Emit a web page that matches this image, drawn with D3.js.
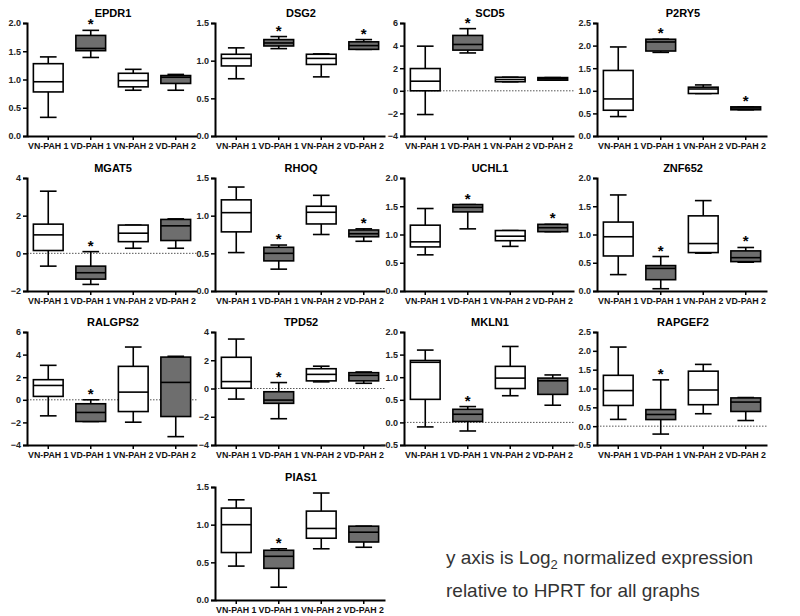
<!DOCTYPE html>
<html>
<head>
<meta charset="utf-8">
<script src="https://cdn.jsdelivr.net/npm/d3@7"></script>
<style>
  body { margin: 0; background: #fff; }
  svg { display: block; font-family: "Liberation Sans", Arial, sans-serif; }
  .tick text { font-weight: bold; font-size: 9px; fill: #222; }
  .title { font-weight: bold; font-size: 11px; }
</style>
</head>
<body>
<svg width="800" height="616"></svg>
<script>
// groups on the x axis of every panel
var groups = ["VN-PAH 1", "VD-PAH 1", "VN-PAH 2", "VD-PAH 2"];

var genes = ["EPDR1", "DSG2", "SCD5", "P2RY5", "MGAT5", "RHOQ", "UCHL1", "ZNF652",
             "RALGPS2", "TPD52", "MKLN1", "RAPGEF2", "PIAS1"];

// y axis ticks for each panel (first and last are the domain)
var yTicks = [
  [0, 0.5, 1, 1.5, 2],
  [0, 0.5, 1, 1.5],
  [-4, -2, 0, 2, 4, 6],
  [0, 0.5, 1, 1.5, 2, 2.5],
  [-2, 0, 2, 4],
  [0, 0.5, 1, 1.5],
  [0, 0.5, 1, 1.5, 2],
  [0, 0.5, 1, 1.5, 2],
  [-4, -2, 0, 2, 4, 6],
  [-4, -2, 0, 2, 4],
  [-0.5, 0, 0.5, 1, 1.5, 2],
  [-0.5, 0, 0.5, 1, 1.5, 2, 2.5],
  [0, 0.5, 1, 1.5]
];

// box stats per group: [min, q1, median, q3, max]
var EPDR1   = [[0.33, 0.78, 0.96, 1.28, 1.40], [1.39, 1.51, 1.55, 1.78, 1.87], [0.81, 0.87, 0.98, 1.11, 1.18], [0.81, 0.93, 1.04, 1.07, 1.09]];
var DSG2    = [[0.76, 0.93, 1.03, 1.085, 1.17], [1.16, 1.195, 1.235, 1.28, 1.32], [0.785, 0.95, 1.03, 1.085, 1.09], [1.15, 1.15, 1.20, 1.25, 1.28]];
var SCD5    = [[-2.1, 0.0, 0.85, 1.97, 3.95], [3.35, 3.6, 4.1, 4.9, 5.5], [0.8, 0.8, 1.0, 1.2, 1.2], [0.94, 0.94, 1.06, 1.17, 1.17]];
var P2RY5   = [[0.43, 0.57, 0.82, 1.45, 1.97], [1.85, 1.88, 2.08, 2.14, 2.14], [0.94, 0.94, 1.04, 1.08, 1.13], [0.58, 0.58, 0.62, 0.645, 0.645]];
var MGAT5   = [[-0.68, 0.15, 0.98, 1.55, 3.3], [-1.65, -1.37, -1.03, -0.68, 0.09], [0.27, 0.62, 1.07, 1.5, 1.5], [0.27, 0.68, 1.46, 1.8, 1.83]];
var RHOQ    = [[0.51, 0.785, 1.04, 1.21, 1.38], [0.29, 0.40, 0.50, 0.58, 0.61], [0.75, 0.89, 1.045, 1.125, 1.27], [0.66, 0.72, 0.76, 0.81, 0.825]];
var UCHL1   = [[0.64, 0.78, 0.87, 1.165, 1.46], [1.10, 1.40, 1.48, 1.53, 1.53], [0.79, 0.89, 0.97, 1.07, 1.07], [1.05, 1.05, 1.12, 1.18, 1.18]];
var ZNF652  = [[0.29, 0.62, 0.96, 1.22, 1.70], [0.04, 0.20, 0.40, 0.45, 0.61], [0.67, 0.68, 0.84, 1.33, 1.60], [0.51, 0.52, 0.59, 0.71, 0.77]];
var RALGPS2 = [[-1.42, 0.3, 1.27, 1.78, 3.05], [-1.92, -1.92, -1.12, -0.35, 0.0], [-1.98, -1.04, 0.68, 2.96, 4.67], [-3.26, -1.48, 1.54, 3.78, 3.85]];
var TPD52   = [[-0.75, 0.02, 0.49, 2.21, 3.5], [-2.14, -1.05, -0.82, -0.23, 0.42], [0.47, 0.54, 1.0, 1.4, 1.58], [0.37, 0.54, 0.93, 1.12, 1.17]];
var MKLN1   = [[-0.1, 0.51, 1.33, 1.37, 1.60], [-0.19, 0.02, 0.18, 0.29, 0.35], [0.59, 0.75, 0.98, 1.24, 1.68], [0.38, 0.62, 0.92, 0.98, 1.05]];
var RAPGEF2 = [[0.18, 0.55, 0.945, 1.35, 2.10], [-0.21, 0.175, 0.31, 0.44, 1.23], [0.33, 0.57, 0.96, 1.46, 1.64], [0.15, 0.39, 0.64, 0.75, 0.76]];
var PIAS1   = [[0.45, 0.63, 1.0, 1.22, 1.33], [0.17, 0.42, 0.58, 0.66, 0.68], [0.68, 0.82, 0.95, 1.18, 1.42], [0.70, 0.77, 0.90, 0.98, 0.98]];

var boxData = [EPDR1, DSG2, SCD5, P2RY5, MGAT5, RHOQ, UCHL1, ZNF652, RALGPS2, TPD52, MKLN1, RAPGEF2, PIAS1];

// significance stars (1 = star over that group)
var stars = [
  [0, 1, 0, 0], [0, 1, 0, 1], [0, 1, 0, 0], [0, 1, 0, 1],
  [0, 1, 0, 0], [0, 1, 0, 1], [0, 1, 0, 1], [0, 1, 0, 1],
  [0, 1, 0, 0], [0, 1, 0, 0], [0, 1, 0, 0], [0, 1, 0, 0],
  [0, 1, 0, 0]
];

// layout
var colX = [27, 215, 404, 597];
var rowY = [23, 178, 332, 487];
var plotW = 170, plotH = 113;
var fillFor = ["#ffffff", "#6e6e6e", "#ffffff", "#6e6e6e"];

var svg = d3.select("svg");

var x = d3.scaleBand().domain(groups).range([0, plotW]).paddingInner(0.3).paddingOuter(0.15);

genes.forEach(function (gene, i) {
  var col = i < 12 ? i % 4 : 1;
  var row = Math.floor(i / 4);
  var ticks = yTicks[i];
  var y = d3.scaleLinear().domain([ticks[0], ticks[ticks.length - 1]]).range([plotH, 0]);
  var intTicks = ticks.every(function (t) { return Math.round(t) === t; });

  var g = svg.append("g").attr("transform", "translate(" + colX[col] + "," + rowY[row] + ")");

  g.append("text").attr("class", "title")
    .attr("x", plotW / 2 + 1).attr("y", -6)
    .attr("text-anchor", "middle").text(gene);

  // dotted zero line when the axis goes negative
  if (ticks[0] < 0) {
    g.append("line")
      .attr("x1", 0).attr("x2", plotW)
      .attr("y1", y(0)).attr("y2", y(0))
      .attr("stroke", "#555").attr("stroke-width", 1)
      .attr("stroke-dasharray", "1.5,1.5");
  }

  var yAxis = g.append("g")
    .call(d3.axisLeft(y).tickValues(ticks).tickSize(4).tickPadding(2)
      .tickFormat(d3.format(intTicks ? "d" : ".1f")));
  yAxis.select(".domain").attr("stroke-width", 2);
  yAxis.selectAll(".tick line").attr("stroke-width", 1.5);

  var xAxis = g.append("g").attr("transform", "translate(0," + plotH + ")")
    .call(d3.axisBottom(x).tickSize(4).tickSizeOuter(0).tickPadding(3));
  xAxis.select(".domain").attr("stroke-width", 2);
  xAxis.selectAll(".tick line").attr("stroke-width", 1.5);
  xAxis.selectAll(".tick text").style("font-size", "8.8px").style("fill", "#111");

  var boxes = g.selectAll(".box").data(boxData[i]).enter().append("g")
    .attr("transform", function (d, j) { return "translate(" + x(groups[j]) + ",0)"; });
  var bw = x.bandwidth();

  // whiskers
  boxes.append("line")
    .attr("x1", bw / 2).attr("x2", bw / 2)
    .attr("y1", function (d) { return y(d[0]); })
    .attr("y2", function (d) { return y(d[4]); })
    .attr("stroke", "#000").attr("stroke-width", 1.6);
  [0, 4].forEach(function (k) {
    boxes.append("line")
      .attr("x1", bw * 0.22).attr("x2", bw * 0.78)
      .attr("y1", function (d) { return y(d[k]); })
      .attr("y2", function (d) { return y(d[k]); })
      .attr("stroke", "#000").attr("stroke-width", 1.6);
  });
  boxes.append("rect")
    .attr("x", 0).attr("width", bw)
    .attr("y", function (d) { return y(d[3]); })
    .attr("height", function (d) { return Math.max(1, y(d[1]) - y(d[3])); })
    .attr("fill", function (d, j) { return fillFor[j]; })
    .attr("stroke", "#000").attr("stroke-width", 1.6);
  boxes.append("line")
    .attr("x1", 0).attr("x2", bw)
    .attr("y1", function (d) { return y(d[2]); })
    .attr("y2", function (d) { return y(d[2]); })
    .attr("stroke", "#000").attr("stroke-width", 1.6);

  boxes.filter(function (d, j) { return stars[i][j]; })
    .append("text")
    .attr("x", bw / 2)
    .attr("y", function (d) { return y(d[4]) - 1; })
    .attr("text-anchor", "middle")
    .style("font-size", "15px").style("font-weight", "bold")
    .text("*");
});

// note
var note = svg.append("g").attr("transform", "translate(446,0)")
  .style("font-size", "19px").style("fill", "#333");
var line1 = note.append("text").attr("y", 564);
line1.append("tspan").text("y axis is Log");
line1.append("tspan").attr("dy", 5).style("font-size", "13px").text("2");
line1.append("tspan").attr("dy", -5).text(" normalized expression");
note.append("text").attr("y", 597).text("relative to HPRT for all graphs");
</script>
</body>
</html>
